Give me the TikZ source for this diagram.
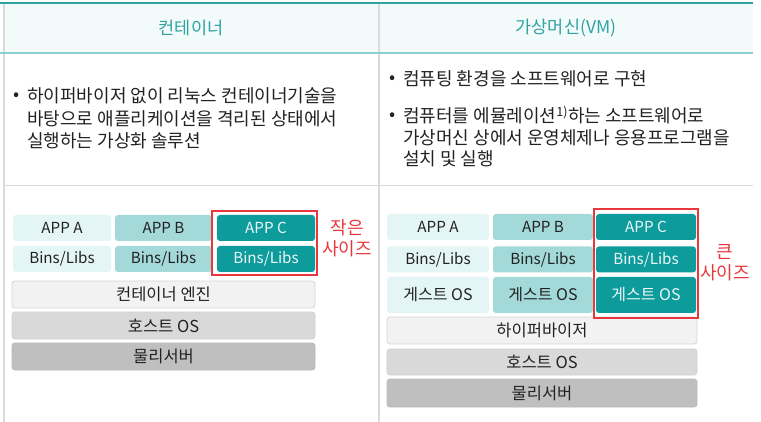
\documentclass[tikz,border=0pt]{standalone}
\usepackage{fontspec}
\setmainfont{Noto Sans CJK KR}
\definecolor{teal1}{HTML}{2FA3A3}
\definecolor{tealline}{HTML}{8CCFCF}
\definecolor{hdrfill}{HTML}{F3FAFA}
\definecolor{gridgray}{HTML}{DADADA}
\definecolor{appa}{HTML}{E4F5F5}
\definecolor{appb}{HTML}{A3D9D9}
\definecolor{appc}{HTML}{0E9B9B}
\definecolor{txt}{HTML}{222222}
\definecolor{redbox}{HTML}{E8383D}
\begin{document}
\begin{tikzpicture}[x=1pt,y=-1pt,
  cell/.style={rounded corners=3pt,inner sep=0pt,text=txt,font=\fontsize{15.2}{17}\selectfont},
  ca/.style={cell,fill=appa},
  cb/.style={cell,fill=appb},
  cc/.style={cell,fill=appc,text=white!92!appc},
  guest/.style={font=\fontsize{16}{18}\selectfont},
  layer/.style={cell,line width=0.8pt,font=\fontsize{16.5}{18}\selectfont},
  layer1/.style={layer,fill=black!5,draw=black!16},
  layer2/.style={layer,fill=black!15,draw=black!18},
  layer3/.style={layer,fill=black!25,draw=black!27},
  hdr/.style={text=teal1,font=\fontsize{17.5}{19}\selectfont},
  body/.style={anchor=base west,inner sep=0pt,text=txt,font=\fontsize{18}{20}\selectfont},
  bul/.style={anchor=center,inner sep=0pt,text=txt,font=\fontsize{18}{20}\selectfont},
  sizelbl/.style={text=redbox,align=center,font=\fontsize{18}{21}\selectfont},
  redframe/.style={draw=redbox,line width=1.2pt}]
\useasboundingbox (0,0) rectangle (761,422);
\fill[white] (0,0) rectangle (761,422);
% header band
\fill[hdrfill] (4,3) rectangle (753,53);
\draw[gridgray,line width=1.5pt] (4,3) -- (4,422);
\draw[gridgray,line width=1.2pt] (379,3) -- (379,422);
\draw[gridgray,line width=1pt] (4,186) -- (753,186);
\draw[teal1,line width=2pt] (0,3) -- (753,3);
\draw[tealline,line width=1.8pt] (0,53) -- (753,53);
\node[hdr] (h1) at (191,28) {컨테이너};
\node[hdr] (h2) at (566,28) {가상머신(VM)};
% left body text
\node[bul] (lb1) at (17,96.5) {•};
\node[body] (l1) at (27,103) {하이퍼바이저 없이 리눅스 컨테이너기술을};
\node[body] (l2) at (27,125.5) {바탕으로 애플리케이션을 격리된 상태에서};
\node[body] (l3) at (27,148) {실행하는 가상화 솔루션};
% right body text
\node[bul] (rb1) at (393,79.5) {•};
\node[body] (r1) at (403,86) {컴퓨팅 환경을 소프트웨어로 구현};
\node[bul] (rb2) at (393,116.5) {•};
\node[body] (r2) at (403,123) {컴퓨터를 에뮬레이션\textsuperscript{1)}하는 소프트웨어로};
\node[body] (r3) at (403,144.5) {가상머신 상에서 운영체제나 응용프로그램을};
\node[body] (r4) at (403,166) {설치 및 실행};
% left diagram
\node[ca,minimum width=98pt,minimum height=26pt] (la1) at (62,228) {APP A};
\node[cb,minimum width=97pt,minimum height=26pt] (lb1b) at (163.5,228) {APP B};
\node[cc,minimum width=98pt,minimum height=26pt] (lc1) at (266,228) {APP C};
\node[ca,minimum width=98pt,minimum height=26pt] (la2) at (62,259) {Bins/Libs};
\node[cb,minimum width=97pt,minimum height=26pt] (lb2) at (163.5,259) {Bins/Libs};
\node[cc,minimum width=98pt,minimum height=26pt] (lc2) at (266,259) {Bins/Libs};
\node[layer1,minimum width=303pt,minimum height=27pt] (leng) at (163.5,294.5) {컨테이너 엔진};
\node[layer2,minimum width=303pt,minimum height=27pt] (lhost) at (163.5,325.5) {호스트 OS};
\node[layer3,minimum width=303pt,minimum height=27pt] (lphys) at (163.5,356.5) {물리서버};
\draw[redframe] (212,211) rectangle (317,275);
\node[sizelbl] (lsize) at (347,238.5) {작은\\사이즈};
% right diagram
\node[ca,minimum width=102pt,minimum height=26pt] (ra1) at (438,227) {APP A};
\node[cb,minimum width=100pt,minimum height=26pt] (rb1b) at (543,227) {APP B};
\node[cc,minimum width=100pt,minimum height=26pt] (rc1) at (646,227) {APP C};
\node[ca,minimum width=102pt,minimum height=26pt] (ra2) at (438,259.5) {Bins/Libs};
\node[cb,minimum width=100pt,minimum height=26pt] (rb2) at (543,259.5) {Bins/Libs};
\node[cc,minimum width=100pt,minimum height=26pt] (rc2) at (646,259.5) {Bins/Libs};
\node[ca,guest,minimum width=102pt,minimum height=36pt] (ra3) at (438,295) {게스트 OS};
\node[cb,guest,minimum width=100pt,minimum height=36pt] (rb3) at (543,295) {게스트 OS};
\node[cc,guest,minimum width=100pt,minimum height=36pt] (rc3) at (646,295) {게스트 OS};
\node[layer1,minimum width=310pt,minimum height=27pt] (rhyp) at (542,330.5) {하이퍼바이저};
\node[layer2,minimum width=310pt,minimum height=26pt] (rhost) at (542,362) {호스트 OS};
\node[layer3,minimum width=310pt,minimum height=28pt] (rphys) at (542,393) {물리서버};
\draw[redframe] (594,209) rectangle (698,318);
\node[sizelbl] (rsize) at (725,263) {큰\\사이즈};
\end{tikzpicture}
\end{document}
